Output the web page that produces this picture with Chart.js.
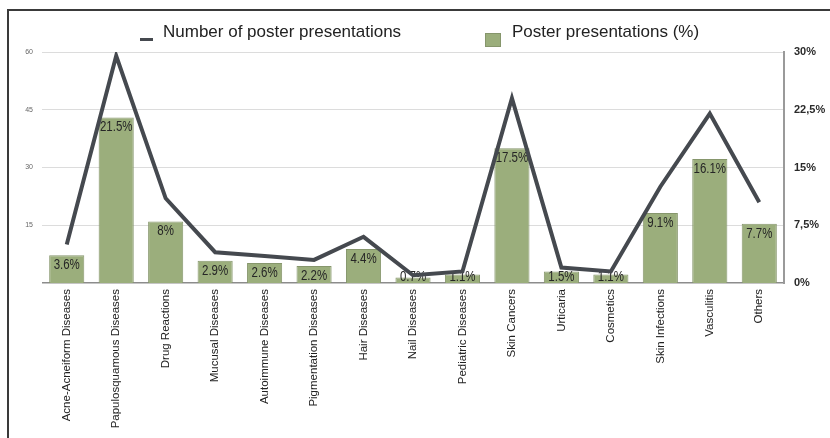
<!DOCTYPE html>
<html>
<head>
<meta charset="utf-8">
<script src="https://cdn.jsdelivr.net/npm/chart.js@4"></script>
<style>
  html, body { margin:0; padding:0; background:#fff; overflow:hidden; width:830px; height:438px; }
  #frame { position:absolute; left:7px; top:9px; width:900px; height:500px; border-left:2px solid #3a3a3a; border-top:2px solid #3a3a3a; }
  #c { position:absolute; left:0; top:0; }
</style>
</head>
<body>
<div id="frame"></div>
<canvas id="c" width="830" height="438"></canvas>
<script>
const categories = ['Acne-Acneiform Diseases','Papulosquamous Diseases','Drug Reactions','Mucusal Diseases','Autoimmune Diseases','Pigmentation Diseases','Hair Diseases','Nail Diseases','Pediatric Diseases','Skin Cancers','Urticaria','Cosmetics','Skin Infections','Vasculitis','Others'];
const posterCounts = [10, 59, 22, 8, 7, 6, 12, 2, 3, 48, 4, 3, 25, 44, 21];
const posterPercents = [3.6, 21.5, 8, 2.9, 2.6, 2.2, 4.4, 0.7, 1.1, 17.5, 1.5, 1.1, 9.1, 16.1, 7.7];
const percentLabels = ['3.6%','21.5%','8%','2.9%','2.6%','2.2%','4.4%','0.7%','1.1%','17.5%','1.5%','1.1%','9.1%','16.1%','7.7%'];
const leftTickLabels = {15:'15', 30:'30', 45:'45', 60:'60'};
const rightTickLabels = {0:'0%', 7.5:'7,5%', 15:'15%', 22.5:'22,5%', 30:'30%'};
const legendLabels = ['Number of poster presentations', 'Poster presentations (%)'];

const LINE_COLOR = '#45494f';
const BAR_COLOR = '#9bae7c';
const BAR_BORDER = '#86966c';

const barLabelPlugin = {
  id: 'barLabels',
  afterDatasetDraw(chart, args) {
    if (args.index !== 1) return;
    const ctx = chart.ctx;
    const meta = chart.getDatasetMeta(1);
    const sx = 0.82;
    ctx.save();
    ctx.font = "14px 'Liberation Sans', Arial, sans-serif";
    ctx.fillStyle = '#262626';
    ctx.textAlign = 'center';
    ctx.textBaseline = 'middle';
    meta.data.forEach((bar, i) => {
      const y = Math.min(bar.y + 10, 277);
      ctx.save();
      ctx.translate(bar.x, y);
      ctx.scale(sx, 1);
      ctx.fillText(percentLabels[i], 0, 0);
      ctx.restore();
    });
    ctx.restore();
  }
};

const legendPlugin = {
  id: 'customLegend',
  afterDraw(chart) {
    const ctx = chart.ctx;
    ctx.save();
    ctx.strokeStyle = LINE_COLOR;
    ctx.lineWidth = 3;
    ctx.beginPath();
    ctx.moveTo(140, 39.5);
    ctx.lineTo(153, 39.5);
    ctx.stroke();
    ctx.font = "17px 'Liberation Sans', Arial, sans-serif";
    ctx.fillStyle = '#222';
    ctx.textBaseline = 'middle';
    ctx.textAlign = 'left';
    ctx.fillText(legendLabels[0], 163, 32);
    ctx.fillStyle = BAR_COLOR;
    ctx.fillRect(485, 33, 16, 14);
    ctx.strokeStyle = BAR_BORDER;
    ctx.lineWidth = 1;
    ctx.strokeRect(485.5, 33.5, 15, 13);
    ctx.fillStyle = '#222';
    ctx.fillText(legendLabels[1], 512, 32);
    ctx.restore();
  }
};

new Chart(document.getElementById('c'), {
  data: {
    labels: categories,
    datasets: [
      {
        type: 'line',
        label: legendLabels[0],
        data: posterCounts,
        yAxisID: 'y',
        borderColor: LINE_COLOR,
        backgroundColor: LINE_COLOR,
        borderWidth: 4,
        pointRadius: 0,
        tension: 0,
        order: 0
      },
      {
        type: 'bar',
        label: legendLabels[1],
        data: posterPercents,
        yAxisID: 'y1',
        backgroundColor: BAR_COLOR,
        borderColor: BAR_BORDER,
        borderWidth: 1,
        categoryPercentage: 1,
        barPercentage: 0.71,
        order: 1
      }
    ]
  },
  options: {
    responsive: false,
    animation: false,
    devicePixelRatio: 1,
    layout: { padding: { top: 52, left: 0, right: 0, bottom: 0 } },
    plugins: { legend: { display: false }, tooltip: { enabled: false } },
    scales: {
      x: {
        grid: { display: false },
        border: { display: false },
        ticks: {
          autoSkip: false, maxRotation: 90, minRotation: 90, padding: -2,
          color: '#222',
          font: { family: "'Liberation Sans', Arial, sans-serif", size: 11.5 }
        },
        afterFit(scale) { scale.height = 155; }
      },
      y: {
        position: 'left',
        min: 0, max: 60,
        border: { display: false },
        grid: {
          drawTicks: false,
          color: (c) => (c.tick && c.tick.value === 0) ? '#8c8c8c' : '#dcdcdc',
          lineWidth: (c) => (c.tick && c.tick.value === 0) ? 1.5 : 1
        },
        ticks: {
          stepSize: 15, padding: 9, color: '#666',
          font: { family: "'Liberation Sans', Arial, sans-serif", size: 7 },
          callback: (v) => leftTickLabels[v] || ''
        },
        afterFit(scale) { scale.width = 42; }
      },
      y1: {
        position: 'right',
        min: 0, max: 30,
        border: { display: true, color: '#9a9a9a', width: 2 },
        grid: { display: false, drawTicks: false },
        ticks: {
          stepSize: 7.5, padding: 10, color: '#2a2a2a',
          font: { family: "'Liberation Sans', Arial, sans-serif", size: 11, weight: 'bold' },
          callback: (v) => rightTickLabels[v] !== undefined ? rightTickLabels[v] : ''
        },
        afterFit(scale) { scale.width = 46; }
      }
    }
  },
  plugins: [barLabelPlugin, legendPlugin]
});
</script>
</body>
</html>
